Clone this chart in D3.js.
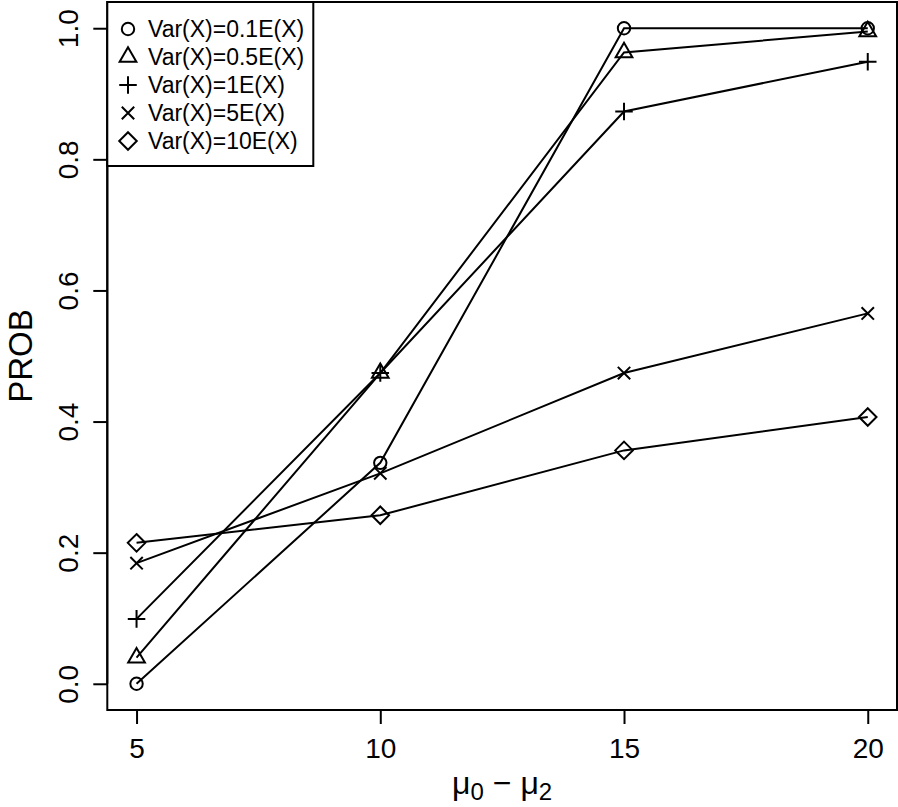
<!DOCTYPE html>
<html lang="en">
<head>
    <meta charset="UTF-8">
    <title>PROB vs mu0 - mu2</title>
    <script src="https://d3js.org/d3.v7.min.js"></script>
    <style>
        body { margin: 0; background: #fff; }
        svg { display: block; }
        text { font-family: "Liberation Sans", Arial, Helvetica, sans-serif; fill: #000; }
    </style>
</head>
<body>
<div id="chart"></div>
<script>
    // data
    const diffs = [5, 10, 15, 20];
    const seriesNames = ["Var(X)=0.1E(X)", "Var(X)=0.5E(X)", "Var(X)=1E(X)", "Var(X)=5E(X)", "Var(X)=10E(X)"];
    const seriesSymbols = ["circle", "triangle", "plus", "cross", "diamond"];
    const var01 = [0.000, 0.337, 1.000, 1.000];
    const var05 = [0.040, 0.474, 0.963, 0.995];
    const var1 = [0.099, 0.474, 0.873, 0.949];
    const var5 = [0.184, 0.321, 0.474, 0.565];
    const var10 = [0.215, 0.257, 0.356, 0.407];
    const yTicks = [0.0, 0.2, 0.4, 0.6, 0.8, 1.0];

    const allSeries = [var01, var05, var1, var5, var10];

    const width = 898, height = 807;
    const svg = d3.select("#chart").append("svg")
        .attr("width", width)
        .attr("height", height);

    // R style: 4% padding on each side of the data range
    const x = d3.scaleLinear().domain([4.4, 20.6]).range([107.3, 897]);
    const y = d3.scaleLinear().domain([-0.04, 1.04]).range([710, 2]);

    const lw = 2;
    const r = 6.2; // base symbol radius

    // draw an R-like pch symbol at (cx, cy)
    function drawSymbol(g, type, cx, cy) {
        if (type === "circle") {
            g.append("circle").attr("cx", cx).attr("cy", cy).attr("r", r)
                .attr("fill", "none").attr("stroke", "#000").attr("stroke-width", lw);
        } else if (type === "triangle") {
            const tr = 1.555 * r, th = 0.778 * r, tw = 1.347 * r;
            g.append("path")
                .attr("d", `M${cx},${cy - tr}L${cx + tw},${cy + th}L${cx - tw},${cy + th}Z`)
                .attr("fill", "none").attr("stroke", "#000").attr("stroke-width", lw);
        } else if (type === "plus") {
            const s = 1.414 * r;
            g.append("path")
                .attr("d", `M${cx - s},${cy}H${cx + s}M${cx},${cy - s}V${cy + s}`)
                .attr("fill", "none").attr("stroke", "#000").attr("stroke-width", lw);
        } else if (type === "cross") {
            const s = r;
            g.append("path")
                .attr("d", `M${cx - s},${cy - s}L${cx + s},${cy + s}M${cx - s},${cy + s}L${cx + s},${cy - s}`)
                .attr("fill", "none").attr("stroke", "#000").attr("stroke-width", lw);
        } else if (type === "diamond") {
            const s = 1.414 * r;
            g.append("path")
                .attr("d", `M${cx},${cy - s}L${cx + s},${cy}L${cx},${cy + s}L${cx - s},${cy}Z`)
                .attr("fill", "none").attr("stroke", "#000").attr("stroke-width", lw);
        }
    }

    // lines and points (type="o")
    const line = d3.line().x(d => x(d[0])).y(d => y(d[1]));
    allSeries.forEach((vals, i) => {
        const pts = diffs.map((d, j) => [d, vals[j]]);
        svg.append("path")
            .attr("d", line(pts))
            .attr("fill", "none")
            .attr("stroke", "#000")
            .attr("stroke-width", lw);
        const g = svg.append("g");
        pts.forEach(p => drawSymbol(g, seriesSymbols[i], x(p[0]), y(p[1])));
    });

    // plot box
    svg.append("rect")
        .attr("x", x.range()[0]).attr("y", y.range()[1])
        .attr("width", x.range()[1] - x.range()[0])
        .attr("height", y.range()[0] - y.range()[1])
        .attr("fill", "none").attr("stroke", "#000").attr("stroke-width", lw);

    // x axis
    const xAxis = svg.append("g")
        .attr("transform", `translate(0,${y.range()[0]})`)
        .call(d3.axisBottom(x).tickValues(diffs).tickSize(14).tickPadding(6).tickFormat(d3.format("d")));
    xAxis.select(".domain").attr("d", `M${x(5)},0H${x(20)}`).attr("stroke-width", lw);
    xAxis.selectAll(".tick line").attr("stroke-width", lw);
    xAxis.selectAll(".tick text")
        .attr("y", 48)
        .attr("dy", 0)
        .style("font-size", "28px")
        .style("font-family", "'Liberation Sans', Arial, sans-serif");

    // y axis
    const yAxis = svg.append("g")
        .attr("transform", `translate(${x.range()[0]},0)`)
        .call(d3.axisLeft(y).tickValues(yTicks).tickSize(14).tickFormat(d3.format(".1f")));
    yAxis.select(".domain").attr("d", `M0,${y(0)}V${y(1)}`).attr("stroke-width", lw);
    yAxis.selectAll(".tick line").attr("stroke-width", lw);
    yAxis.selectAll(".tick text")
        .attr("x", null).attr("dy", null)
        .attr("text-anchor", "middle")
        .attr("transform", "translate(-29,0) rotate(-90)")
        .style("font-size", "28px")
        .style("font-family", "'Liberation Sans', Arial, sans-serif");

    // axis titles
    svg.append("text")
        .attr("transform", `translate(32,${y(0.5)}) rotate(-90)`)
        .attr("text-anchor", "middle")
        .style("font-size", "33px")
        .text("PROB");

    const xl = svg.append("text")
        .attr("x", (x.range()[0] + x.range()[1]) / 2)
        .attr("y", 794)
        .attr("text-anchor", "middle")
        .style("font-size", "32px");
    xl.append("tspan").text("\u03bc");
    xl.append("tspan").attr("dy", 6).style("font-size", "24px").text("0");
    xl.append("tspan").attr("dy", -6).text(" \u2212 \u03bc");
    xl.append("tspan").attr("dy", 6).style("font-size", "24px").text("2");

    // legend
    const legend = svg.append("g");
    legend.append("rect")
        .attr("x", x.range()[0]).attr("y", y.range()[1])
        .attr("width", 206).attr("height", 164)
        .attr("fill", "#fff").attr("stroke", "#000").attr("stroke-width", lw);
    seriesNames.forEach((name, i) => {
        const cy = 29 + i * 28;
        drawSymbol(legend, seriesSymbols[i], 128, cy);
        legend.append("text")
            .attr("x", 148)
            .attr("y", cy)
            .attr("dy", "0.36em")
            .style("font-size", "23px")
            .text(name);
    });
</script>
</body>
</html>
